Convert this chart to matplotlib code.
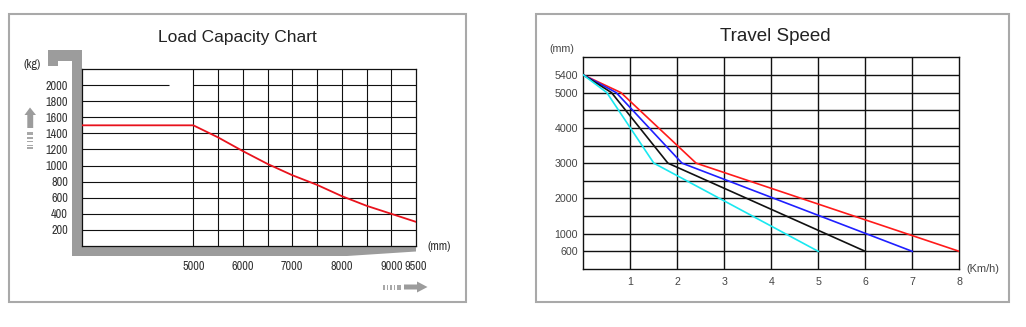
import numpy as np
import matplotlib
matplotlib.use("Agg")
import matplotlib.pyplot as plt
from matplotlib.patches import Polygon, Rectangle
from matplotlib import font_manager as fm

# ---- Load capacity data ----
load_height_mm = [2750, 5000, 5500, 6000, 6500, 7000, 7500, 8000, 8500, 9000, 9500]
load_capacity_kg = [1500, 1500, 1350, 1180, 1020, 880, 760, 620, 500, 400, 300]
load_yticks = [200, 400, 600, 800, 1000, 1200, 1400, 1600, 1800, 2000]
load_xticks = [5000, 6000, 7000, 8000, 9000, 9500]
load_xgrid = [5000, 5500, 6000, 6500, 7000, 7500, 8000, 8500, 9000]

# ---- Travel speed data ----
lift_mm = [5400, 5000, 3000, 600]
speed_8 = [0, 0.8, 2.4, 8]
speed_7 = [0, 0.7, 2.1, 7]
speed_6 = [0, 0.6, 1.8, 6]
speed_5 = [0, 0.5, 1.5, 5]
speed_colors = ["#ff1a1a", "#1f1fff", "#111111", "#19e8f0"]
speed_yticks = [600, 1000, 2000, 3000, 4000, 5000, 5400]
speed_ygrid = [600, 1000, 1500, 2000, 2500, 3000, 3500, 4000, 4500, 5000, 5400]
speed_xticks = [1, 2, 3, 4, 5, 6, 7, 8]

W, H = 1026, 327
fig = plt.figure(figsize=(W / 100, H / 100), dpi=100)
fig.patch.set_facecolor("white")

SANS = ["Liberation Sans", "DejaVu Sans"]

# pick a condensed face if one is installed
cond = [f for f in fm.fontManager.ttflist
        if f.stretch in ("condensed", "semi-condensed", "extra-condensed", 300)
        or "Narrow" in f.name or "Condensed" in f.name]
NARROW_KW = dict(family=["Liberation Sans", "DejaVu Sans"], size=7.6)
for f in cond:
    if "Narrow" in f.name or "Condensed" in f.name:
        NARROW_KW = dict(family=[f.name, "DejaVu Sans"], size=8.8)
        break
else:
    for f in cond:
        NARROW_KW = dict(family=[f.name, "DejaVu Sans"], stretch=f.stretch, size=8.8)
        break
txt_kw = {("fontsize" if k == "size" else "fontstretch" if k == "stretch" else k): v
          for k, v in NARROW_KW.items()}


def fx(x):
    return x / W


def fy(y):
    return 1 - y / H


def fig_poly(pts, **kw):
    p = Polygon([(fx(x), fy(y)) for x, y in pts], closed=True,
                transform=fig.transFigure, **kw)
    fig.patches.append(p)
    return p


def fig_rect(x0, y0, x1, y1, **kw):
    r = Rectangle((fx(x0), fy(y1)), fx(x1) - fx(x0), fy(y0) - fy(y1),
                  transform=fig.transFigure, **kw)
    fig.patches.append(r)
    return r


# panel frames
fig_rect(9, 14, 466, 302, fill=False, edgecolor="#a9a9a9", lw=1.5, zorder=-3)
fig_rect(536, 14, 1009, 302, fill=False, edgecolor="#a9a9a9", lw=1.5, zorder=-3)

# ================= Load Capacity Chart =================
axL = fig.add_axes([fx(82), fy(246), fx(416) - fx(82), fy(69) - fy(246)])
axL.set_xlim(load_height_mm[0], 9500)
axL.set_ylim(0, 2200)
for s in axL.spines.values():
    s.set_color("#111111")
    s.set_linewidth(0.9)
for v in load_yticks:
    if v == 2000:
        axL.hlines(v, load_height_mm[0], 4515, color="#111111", lw=0.8)
        axL.hlines(v, 5000, 9500, color="#111111", lw=0.8)
    else:
        axL.hlines(v, load_height_mm[0], 9500, color="#111111", lw=0.8)
for v in load_xgrid:
    axL.vlines(v, 0, 2200, color="#111111", lw=0.8)
axL.plot(load_height_mm, load_capacity_kg, color="#e8121c", lw=1.3, zorder=5)

axL.set_yticks(load_yticks)
axL.set_yticklabels([str(v) for v in load_yticks])
axL.set_xticks(load_xticks)
axL.set_xticklabels([str(v) for v in load_xticks])
axL.tick_params(axis="y", length=0, pad=10, labelcolor="#333333")
axL.tick_params(axis="x", length=0, pad=10.5, labelcolor="#333333")
for lab in axL.get_yticklabels() + axL.get_xticklabels():
    lab.set(**txt_kw)

# fork-shaped gray frame around the load chart
fig_poly([(48, 50), (82, 50), (82, 246), (416, 246), (416, 251.5), (347, 256),
          (72, 256), (72, 61), (58, 61), (58, 66), (48, 66)],
         facecolor="#9c9c9c", edgecolor="none", zorder=-1)

# up arrow (height direction)
fig_poly([(30, 107.5), (36, 115), (33.2, 115), (33.2, 128), (27.3, 128), (27.3, 115), (24.5, 115)],
         facecolor="#9c9c9c", edgecolor="none", zorder=-1)
for y0, y1 in [(132, 135.5), (137.5, 139), (141, 142.5), (144.5, 146), (147.5, 149)]:
    fig_rect(27.3, y0, 33.2, y1, facecolor="#a8a8a8", edgecolor="none", zorder=-1)

# right arrow (load centre direction)
fig_poly([(427.5, 287), (417, 281.5), (417, 284.5), (404, 284.5), (404, 289.5),
          (417, 289.5), (417, 292.5)],
         facecolor="#9c9c9c", edgecolor="none", zorder=-1)
for x0, x1 in [(383, 384.5), (386.5, 388), (390, 391.5), (393.5, 395), (397, 401)]:
    fig_rect(x0, 284.5, x1, 289.5, facecolor="#a8a8a8", edgecolor="none", zorder=-1)

fig.text(fx(237.5), fy(42), "Load Capacity Chart", ha="center", va="baseline",
         fontsize=12.5, color="#222222", family=SANS)
fig.text(fx(32.5), fy(64), "(kg)", ha="center", va="center", color="#333333", **txt_kw)
fig.text(fx(439), fy(246), "(mm)", ha="center", va="center", color="#333333", **txt_kw)

# ================= Travel Speed =================
mm_knots = [0, 600, 1000, 5000, 5400, 5800]
row_knots = [0, 1, 2, 10, 11, 12]


def to_row(v):
    return np.interp(v, mm_knots, row_knots)


def to_mm(r):
    return np.interp(r, row_knots, mm_knots)


axR = fig.add_axes([fx(583.3), fy(269), fx(959.3) - fx(583.3), fy(57.3) - fy(269)])
axR.set_yscale("function", functions=(to_row, to_mm))
axR.set_xlim(0, 8)
axR.set_ylim(0, 5800)
for s in axR.spines.values():
    s.set_color("#111111")
    s.set_linewidth(1.0)
for v in speed_ygrid:
    axR.hlines(v, 0, 8, color="#111111", lw=1.0)
for v in speed_xticks[:-1]:
    axR.vlines(v, 0, 5800, color="#111111", lw=1.0)

for sp, c in zip([speed_8, speed_7, speed_6, speed_5], speed_colors):
    axR.plot(sp, lift_mm, color=c, lw=1.2, zorder=5, solid_joinstyle="miter")

axR.set_yticks(speed_yticks)
axR.set_yticklabels([str(v) for v in speed_yticks])
axR.yaxis.set_minor_locator(matplotlib.ticker.NullLocator())
axR.set_xticks(speed_xticks)
axR.set_xticklabels([str(v) for v in speed_xticks])
axR.tick_params(axis="y", length=0, pad=3.8, labelsize=7.7, labelcolor="#444444")
axR.tick_params(axis="x", length=0, pad=6, labelsize=7.7, labelcolor="#444444")
for lab in axR.get_yticklabels() + axR.get_xticklabels():
    lab.set_family(SANS)

fig.text(fx(775.5), fy(41), "Travel Speed", ha="center", va="baseline",
         fontsize=13.5, color="#222222", family=SANS)
fig.text(fx(562), fy(49), "(mm)", ha="center", va="center", fontsize=7.7,
         color="#444444", family=SANS)
fig.text(fx(983), fy(269), "(Km/h)", ha="center", va="center", fontsize=7.9,
         color="#444444", family=SANS)

fig.savefig("out.png", dpi=100, facecolor="white")
